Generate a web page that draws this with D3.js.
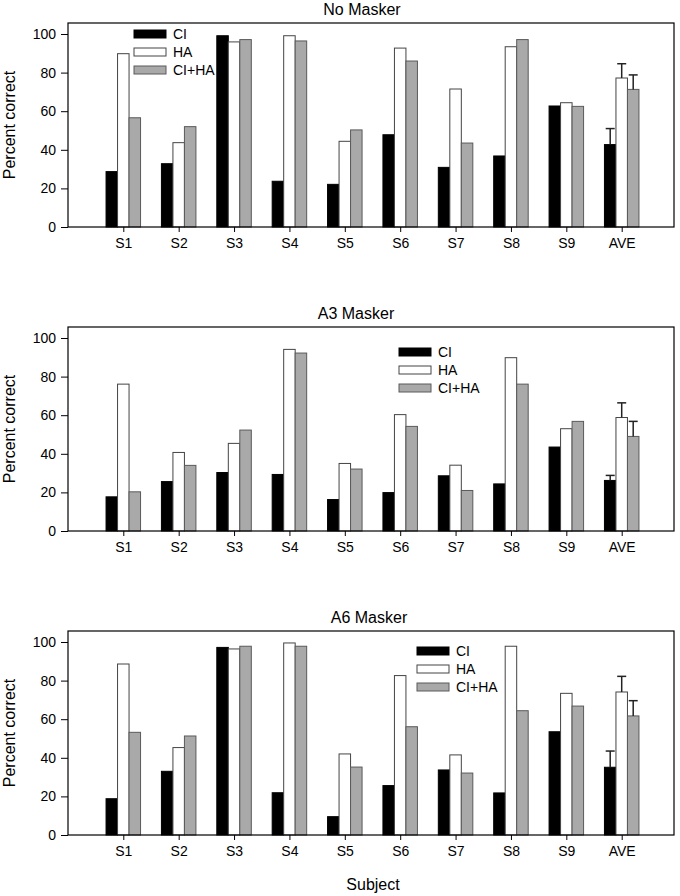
<!DOCTYPE html>
<html>
<head>
<meta charset="utf-8">
<script src="https://cdn.jsdelivr.net/npm/d3@7"></script>
<style>
  html, body { margin: 0; padding: 0; background: #fff; }
  svg { display: block; }
  text { font-family: Arial, "Liberation Sans", sans-serif; fill: #000; }
</style>
</head>
<body>
<svg id="chart" width="680" height="896"></svg>
<script>
// ---- Data ----
const categories = ["S1", "S2", "S3", "S4", "S5", "S6", "S7", "S8", "S9", "AVE"];
const seriesNames = ["CI", "HA", "CI+HA"];
const panelTitles = ["No Masker", "A3 Masker", "A6 Masker"];
const yTicks = [0, 20, 40, 60, 80, 100];

const noMaskerCI   = [28.7, 32.8, 99.1, 23.7, 22.1, 47.8, 30.9, 36.8, 62.7, 42.7];
const noMaskerHA   = [89.8, 43.7, 95.9, 99.1, 44.4, 92.7, 71.5, 93.4, 64.4, 77.2];
const noMaskerCIHA = [56.6, 52.0, 97.1, 96.4, 50.3, 86.0, 43.5, 97.1, 62.5, 71.3];
const noMaskerErr  = [8.3, 7.4, 7.5];   // AVE error (CI, HA, CI+HA)

const a3CI   = [17.7, 25.6, 30.3, 29.3, 16.3, 19.9, 28.6, 24.4, 43.5, 26.2];
const a3HA   = [76.1, 40.7, 45.4, 94.1, 35.0, 60.3, 34.1, 89.8, 53.0, 58.8];
const a3CIHA = [20.3, 34.0, 52.3, 92.2, 32.1, 54.2, 21.0, 76.1, 56.8, 49.0];
const a3Err  = [2.6, 7.6, 7.8];

const a6CI   = [18.8, 33.0, 97.2, 21.9, 9.5, 25.6, 33.7, 21.8, 53.5, 35.1];
const a6HA   = [88.6, 45.3, 96.4, 99.5, 42.0, 82.6, 41.5, 97.8, 73.4, 74.1];
const a6CIHA = [53.2, 51.3, 97.8, 97.8, 35.2, 56.1, 32.1, 64.4, 66.8, 61.7];
const a6Err  = [8.4, 8.1, 7.9];

// ---- Layout / style ----
const panelData = [
  { title: panelTitles[0], series: [noMaskerCI, noMaskerHA, noMaskerCIHA], err: noMaskerErr,
    bottom: 227, titleX: 362, legendX: 134, legendY: 11 },
  { title: panelTitles[1], series: [a3CI, a3HA, a3CIHA], err: a3Err,
    bottom: 531, titleX: 356, legendX: 399, legendY: 25 },
  { title: panelTitles[2], series: [a6CI, a6HA, a6CIHA], err: a6Err,
    bottom: 835, titleX: 369, legendX: 417, legendY: 20 }
];

const fills   = ["#000000", "#ffffff", "#a9a9a9"];
const strokes = ["#000000", "#444444", "#5a5a5a"];

const left = 68, right = 674;
const plotH100 = 193;   // pixels for 0..100
const frameExtra = 11;  // frame above the 100 line

const svg = d3.select("#chart");

const x = d3.scalePoint().domain(categories).range([123.3, 621.7]);
const barW = 11.5;
const xs = d3.scaleBand().domain(seriesNames).range([-1.5 * barW, 1.5 * barW]).padding(0);

panelData.forEach((p, pi) => {
  const bottom = p.bottom;
  const top = bottom - plotH100 - frameExtra;
  const y = d3.scaleLinear().domain([0, 100]).range([bottom, bottom - plotH100]);
  const g = svg.append("g");

  // bars
  p.series.forEach((vals, si) => {
    g.selectAll(null)
      .data(vals)
      .enter()
      .append("rect")
      .attr("x", (d, i) => x(categories[i]) + xs(seriesNames[si]))
      .attr("y", d => y(d))
      .attr("width", xs.bandwidth())
      .attr("height", d => y(0) - y(d))
      .attr("fill", fills[si])
      .attr("stroke", strokes[si])
      .attr("stroke-width", 1);
  });

  // error bars (AVE only, upward)
  const aveIdx = categories.indexOf("AVE");
  p.err.forEach((e, si) => {
    const v = p.series[si][aveIdx];
    const cx = x("AVE") + xs(seriesNames[si]) + xs.bandwidth() / 2;
    g.append("line")
      .attr("x1", cx).attr("x2", cx)
      .attr("y1", y(v)).attr("y2", y(v + e))
      .attr("stroke", "#222").attr("stroke-width", 1.5);
    g.append("line")
      .attr("x1", cx - 4.5).attr("x2", cx + 4.5)
      .attr("y1", y(v + e)).attr("y2", y(v + e))
      .attr("stroke", "#222").attr("stroke-width", 1.5);
  });

  // frame
  g.append("rect")
    .attr("x", left).attr("y", top)
    .attr("width", right - left).attr("height", bottom - top)
    .attr("fill", "none").attr("stroke", "#000").attr("stroke-width", 1.2);

  // y axis
  const ya = g.append("g")
    .attr("transform", `translate(${left},0)`)
    .call(d3.axisLeft(y).tickValues(yTicks).tickSize(7).tickPadding(5));
  ya.select(".domain").remove();
  ya.selectAll("text").style("font-size", "14px").style("font-family", "Arial, 'Liberation Sans', sans-serif");
  ya.selectAll("line").attr("stroke", "#000");

  // x axis
  const xa = g.append("g")
    .attr("transform", `translate(0,${bottom})`)
    .call(d3.axisBottom(x).tickSize(5).tickPadding(6));
  xa.select(".domain").remove();
  xa.selectAll("text").style("font-size", "14px").style("font-family", "Arial, 'Liberation Sans', sans-serif");
  xa.selectAll("line").attr("stroke", "#000");

  // title
  g.append("text")
    .attr("x", p.titleX).attr("y", top - 8)
    .attr("text-anchor", "middle")
    .style("font-size", "16px")
    .text(p.title);

  // y-axis label
  g.append("text")
    .attr("transform", `translate(15,${(top + bottom) / 2}) rotate(-90)`)
    .attr("text-anchor", "middle")
    .style("font-size", "16px")
    .text("Percent correct");

  // legend
  const lg = g.append("g").attr("transform", `translate(${p.legendX},${top + p.legendY})`);
  seriesNames.forEach((s, si) => {
    lg.append("rect")
      .attr("x", 0).attr("y", si * 18 - 4)
      .attr("width", 32).attr("height", 8)
      .attr("fill", fills[si]).attr("stroke", strokes[si]).attr("stroke-width", 1);
    lg.append("text")
      .attr("x", 39).attr("y", si * 18 + 5)
      .style("font-size", "14px")
      .text(s);
  });
});

// x-axis label
svg.append("text")
  .attr("x", 373).attr("y", 890)
  .attr("text-anchor", "middle")
  .style("font-size", "16px")
  .text("Subject");
</script>
</body>
</html>
